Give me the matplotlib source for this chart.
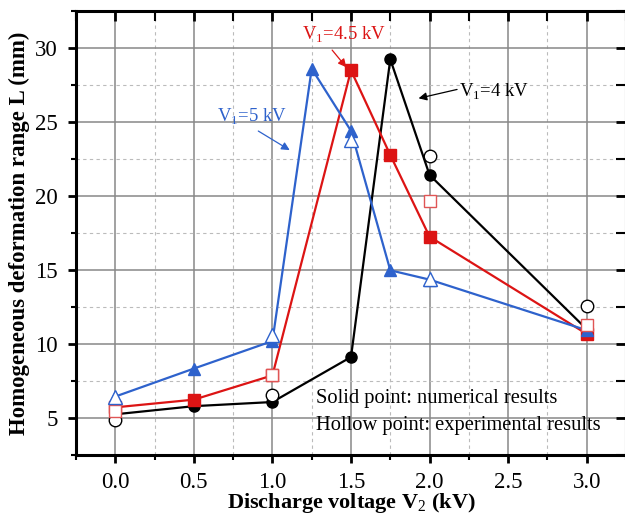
import matplotlib.pyplot as plt
from matplotlib.ticker import MultipleLocator

plt.rcParams['font.family'] = ['Liberation Serif', 'DejaVu Serif']
plt.rcParams['mathtext.fontset'] = 'custom'
plt.rcParams['mathtext.rm'] = 'Liberation Serif'
plt.rcParams['mathtext.bf'] = 'Liberation Serif:bold'

# V1 = 4 kV (black circles)
x_4 = [0.0, 0.5, 1.0, 1.5, 1.75, 2.0, 3.0]
sim_4 = [5.25, 5.8, 6.08, 9.12, 29.24, 21.42, 11.0]
x_4_exp = [0.0, 1.0, 2.0, 3.0]
exp_4 = [4.85, 6.53, 22.72, 12.55]

# V1 = 4.5 kV (red squares)
x_45 = [0.0, 0.5, 1.0, 1.5, 1.75, 2.0, 3.0]
sim_45 = [5.72, 6.24, 7.88, 28.49, 22.77, 17.25, 10.68]
x_45_exp = [0.0, 1.0, 2.0, 3.0]
exp_45 = [5.45, 7.88, 19.64, 11.3]

# V1 = 5 kV (blue triangles)
x_5 = [0.0, 0.5, 1.0, 1.25, 1.5, 1.75, 2.0, 3.0]
sim_5 = [6.45, 8.34, 10.2, 28.6, 24.4, 14.98, 14.35, 10.93]
x_5_exp = [0.0, 1.0, 1.5, 2.0]
exp_5 = [6.4, 10.6, 23.8, 14.4]

black = 'black'
red = '#DC1414'
blue = '#2E62CC'

fig = plt.figure(figsize=(6.25, 5.19), dpi=100)
ax = fig.add_axes([0.1216, 0.1233, 0.88, 0.8555])

ax.plot(x_4, sim_4, '-o', color=black, lw=1.6, ms=8, zorder=3)
ax.plot(x_45, sim_45, '-s', color=red, lw=1.6, ms=8, zorder=4)
ax.plot(x_5, sim_5, '-^', color=blue, lw=1.6, ms=9, zorder=5)

# hollow points = experiment
ax.plot(x_4_exp, exp_4, 'o', mfc='white', mec=black, mew=1, ms=9, zorder=6)
ax.plot(x_45_exp, exp_45, 's', mfc='white', mec='#E05555', mew=1, ms=9, zorder=6)
ax.plot(x_5_exp, exp_5, '^', mfc='white', mec=blue, mew=1, ms=10, zorder=6)

ax.set_xlim(-0.25, 3.25)
ax.set_ylim(2.5, 32.5)
ax.xaxis.set_minor_locator(MultipleLocator(0.25))
ax.yaxis.set_minor_locator(MultipleLocator(2.5))
ax.set_xticks([0.0, 0.5, 1.0, 1.5, 2.0, 2.5, 3.0])
ax.set_xticklabels(['0.0', '0.5', '1.0', '1.5', '2.0', '2.5', '3.0'])
ax.set_yticks([5, 10, 15, 20, 25, 30])

ax.grid(which='major', color='#888888', lw=1.1, ls='-')
ax.grid(which='minor', color='#BBBBBB', lw=0.8, ls=(0, (3, 3)))
ax.set_axisbelow(True)

for s in ax.spines.values():
    s.set_linewidth(2.2)
ax.tick_params(which='major', direction='out', length=6, width=2,
               labelsize=16.5, top=True, right=True, pad=7)
ax.tick_params(axis='x', which='major', pad=6)
ax.tick_params(which='minor', direction='out', length=3.5, width=1.5,
               top=True, right=True)
# top and right ticks point inward, all the same length
for t in ax.xaxis.get_majorticklines()[1::2] + ax.xaxis.get_minorticklines()[1::2]:
    t.set_marker(3)
    t.set_markersize(7)
for t in ax.yaxis.get_majorticklines()[1::2] + ax.yaxis.get_minorticklines()[1::2]:
    t.set_marker(0)
    t.set_markersize(7)

ax.set_xlabel('Discharge voltage V$_2$ (kV)', fontsize=16, fontweight='bold', labelpad=-1)
ax.set_ylabel('Homogeneous deformation range L (mm)', fontsize=16.5, fontweight='bold', labelpad=4)

arrow = dict(arrowstyle='-|>', lw=0.9, mutation_scale=12, shrinkA=0, shrinkB=0)
ax.annotate('', xy=(1.11, 23.1), xytext=(0.91, 24.39), arrowprops=dict(arrow, color=blue))
ax.text(0.646, 25.34, 'V$_1$=5 kV', color=blue, fontsize=13.5, va='center', ha='left')
ax.annotate('', xy=(1.47, 28.7), xytext=(1.38, 29.86), arrowprops=dict(arrow, color=red))
ax.text(1.19, 30.88, 'V$_1$=4.5 kV', color=red, fontsize=13.5, va='center', ha='left')
ax.annotate('', xy=(1.93, 26.6), xytext=(2.175, 27.2), arrowprops=dict(arrow, color=black))
ax.text(2.19, 27.03, 'V$_1$=4 kV', color=black, fontsize=13.5, va='center', ha='left')

ax.text(1.277, 6.33, 'Solid point: numerical results', fontsize=14.8, va='center', ha='left')
ax.text(1.277, 4.5, 'Hollow point: experimental results', fontsize=14.8, va='center', ha='left')

fig.savefig('out.png', dpi=100)
